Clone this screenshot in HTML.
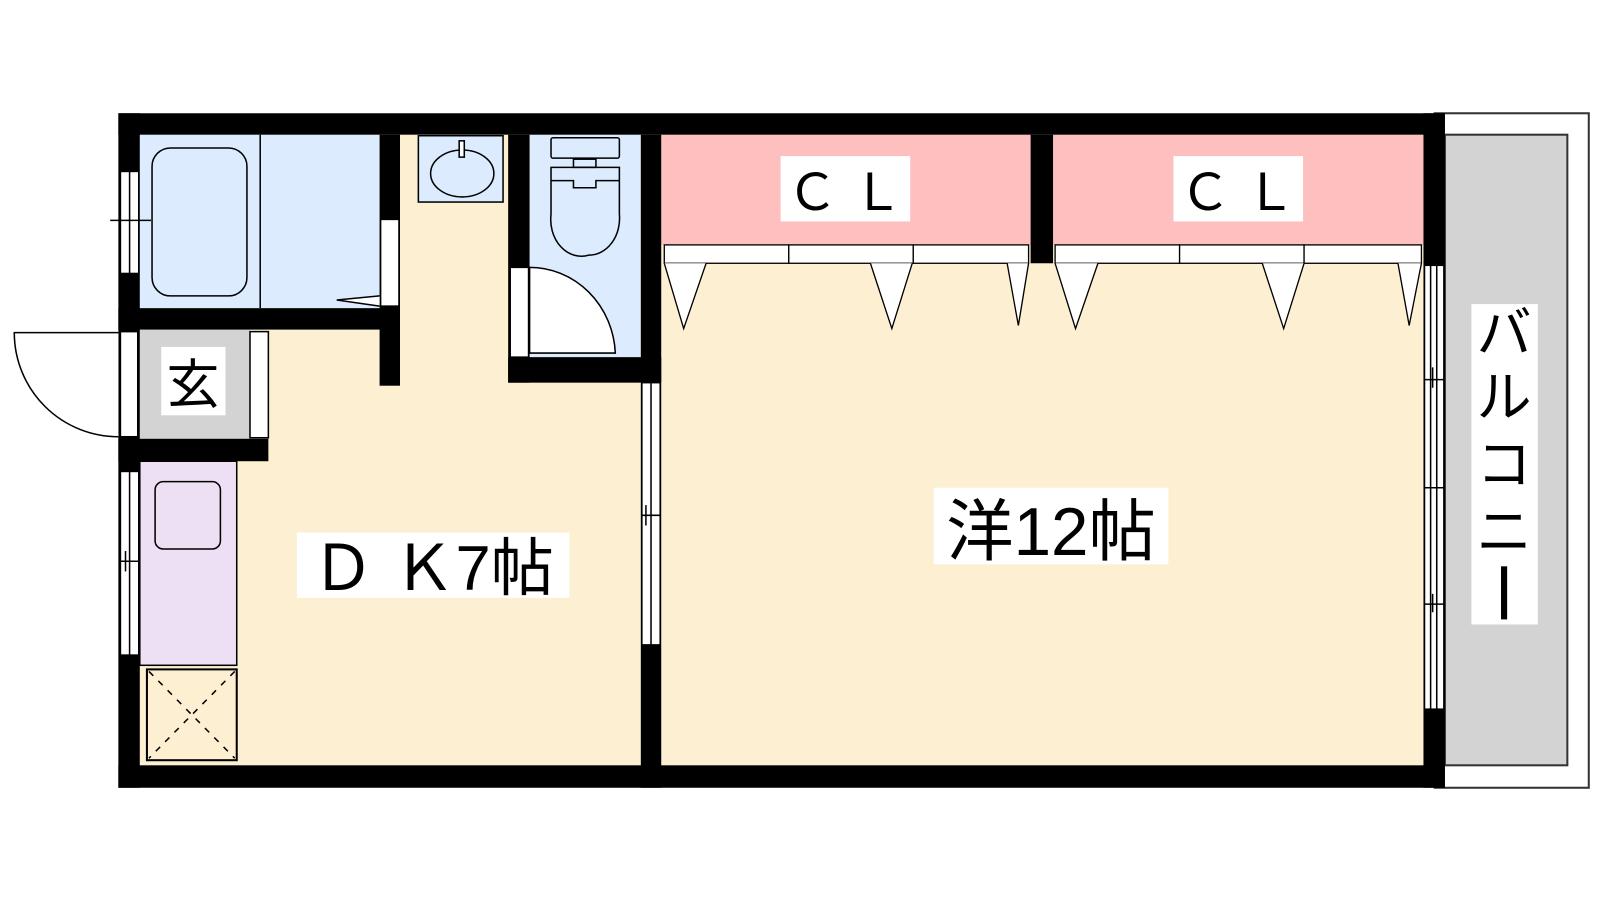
<!DOCTYPE html>
<html><head><meta charset="utf-8"><style>
html,body{margin:0;padding:0;background:#fff;width:1600px;height:900px;overflow:hidden}
svg{display:block}
text{font-family:"Liberation Sans","Noto Sans CJK JP",sans-serif;fill:#000}
</style></head><body>
<svg width="1600" height="900" viewBox="0 0 1568 882" xmlns="http://www.w3.org/2000/svg">
<!-- balcony -->
<rect x="1406" y="111" width="151" height="661" fill="#fff" stroke="#333" stroke-width="2"/>
<rect x="1416" y="132" width="120" height="618" fill="#d3d3d3" stroke="#333" stroke-width="2"/>
<!-- floor fills -->
<rect x="137" y="132" width="1258" height="618" fill="#fdf0d2"/>
<rect x="137" y="132" width="235" height="170" fill="#dcecfe"/>
<rect x="519" y="132" width="109" height="218" fill="#dcecfe"/>
<rect x="648" y="132" width="362" height="108" fill="#febfbf"/>
<rect x="1032" y="132" width="363" height="108" fill="#febfbf"/>
<rect x="137" y="323" width="108" height="107" fill="#d3d3d3"/>
<rect x="137" y="452" width="95" height="200" fill="#ede0f5" stroke="#000" stroke-width="1.5"/>
<!-- walls -->
<g fill="#000">
<rect x="116" y="111" width="1300" height="21"/>
<rect x="116" y="750" width="1300" height="22"/>
<rect x="116" y="111" width="21" height="661"/>
<rect x="1395" y="111" width="21" height="661"/>
<rect x="116" y="302" width="276" height="21"/>
<rect x="372" y="132" width="20" height="246"/>
<rect x="116" y="430" width="147" height="22"/>
<rect x="498" y="132" width="21" height="243"/>
<rect x="498" y="350" width="150" height="25"/>
<rect x="628" y="132" width="20" height="640"/>
<rect x="1010" y="132" width="22" height="126"/>
</g>
<!-- windows / openings -->
<g fill="#fff" stroke="#000" stroke-width="1.5">
<rect x="118" y="168" width="18" height="100"/>
<rect x="118" y="325" width="17" height="103"/>
<rect x="118" y="462" width="18" height="180"/>
<rect x="245" y="325" width="18" height="104"/>
<rect x="373" y="215" width="18" height="85"/>
<rect x="500" y="262" width="18" height="88"/>
<rect x="629" y="375" width="18" height="257"/>
<rect x="1396" y="260" width="19" height="435"/>
</g>
<g stroke="#000" stroke-width="1.5" fill="none">
<line x1="127" y1="168" x2="127" y2="268"/><line x1="108" y1="216" x2="148" y2="216"/>
<line x1="127" y1="462" x2="127" y2="642"/><line x1="118" y1="550" x2="136" y2="550"/><line x1="123" y1="540" x2="123" y2="560"/>
<line x1="638" y1="375" x2="638" y2="632"/><line x1="629" y1="505" x2="647" y2="505"/><line x1="633" y1="495" x2="633" y2="515"/>
<line x1="1402" y1="260" x2="1402" y2="695"/><line x1="1408" y1="260" x2="1408" y2="695"/>
<line x1="1396" y1="372" x2="1415" y2="372"/><line x1="1396" y1="478" x2="1415" y2="478"/><line x1="1396" y1="592" x2="1415" y2="592"/>
<line x1="1404" y1="360" x2="1404" y2="380"/><line x1="1404" y1="582" x2="1404" y2="600"/>
</g>
<!-- bath -->
<g stroke="#000" stroke-width="1.5" fill="none">
<rect x="149" y="145" width="93" height="145" rx="18"/>
<line x1="255" y1="132" x2="255" y2="302"/>
<path d="M372 290 L330 294 L372 300" fill="#fff"/>
<!-- entry door -->
<path d="M116 326 L14 326 A102 102 0 0 0 116 428" fill="#fff"/>
<!-- toilet door -->
<path d="M519 262 A84 88 0 0 1 603 346 L519 346 Z" fill="#fff"/>
<!-- washbasin -->
<rect x="410" y="133" width="83" height="65" fill="#dcecfe"/>
<ellipse cx="453" cy="170" rx="31" ry="23"/>
<rect x="450" y="138" width="5" height="16" fill="#fff"/>
<!-- toilet -->
<rect x="540" y="135" width="67" height="20" rx="2"/>
<rect x="562" y="156" width="22" height="8"/>
<path d="M540 164 H607 V210 A30 36 0 0 1 577 250 A30 36 0 0 1 540 210 Z"/>
<path d="M540 177 H562 V184 H584 V177 H607"/>
<!-- kitchen sink -->
<rect x="152" y="472" width="64" height="66" rx="8"/>
<!-- storage -->
<rect x="144" y="656" width="88" height="89" stroke-width="2"/>
<line x1="146" y1="658" x2="230" y2="743" stroke-dasharray="6 7"/>
<line x1="230" y1="658" x2="146" y2="743" stroke-dasharray="6 7"/>
</g>
<!-- closet doors -->
<g fill="#fff" stroke="#000" stroke-width="1.3">
<rect x="651" y="240" width="122" height="18"/><rect x="773" y="240" width="122" height="18"/><rect x="895" y="240" width="113" height="18"/>
<rect x="1034" y="240" width="122" height="18"/><rect x="1156" y="240" width="122" height="18"/><rect x="1278" y="240" width="115" height="18"/>
<path d="M651 258 L670 322 L692 258"/><path d="M853 258 L874 322 L894 258"/><path d="M987 258 L998 319 L1008 258"/>
<path d="M1034 258 L1054 322 L1076 258"/><path d="M1237 258 L1258 322 L1278 258"/><path d="M1370 258 L1381 319 L1393 258"/>
</g>
<!-- labels -->
<rect x="765" y="153" width="127" height="64" fill="#fff"/>
<text x="828" y="206" font-size="50" text-anchor="middle">Ｃ Ｌ</text>
<rect x="1150" y="153" width="127" height="64" fill="#fff"/>
<text x="1213" y="206" font-size="50" text-anchor="middle">Ｃ Ｌ</text>
<rect x="158" y="340" width="63" height="67" fill="#fff"/>
<text x="189" y="395" font-size="52" text-anchor="middle">玄</text>
<rect x="291" y="522" width="267" height="64" fill="#fff"/>
<text x="424" y="578" font-size="62" text-anchor="middle">Ｄ Ｋ7帖</text>
<rect x="915" y="478" width="230" height="75" fill="#fff"/>
<text x="1030" y="544" font-size="66" text-anchor="middle">洋12帖</text>
<rect x="1442" y="298" width="65" height="314" fill="#fff"/>
<text x="1474" y="345" font-size="54" text-anchor="middle">バ</text>
<text x="1474" y="408" font-size="54" text-anchor="middle">ル</text>
<text x="1474" y="474" font-size="54" text-anchor="middle">コ</text>
<text x="1474" y="540" font-size="54" text-anchor="middle">ニ</text>
<rect x="1471" y="555" width="6" height="52" fill="#000"/>
</svg>
</body></html>
